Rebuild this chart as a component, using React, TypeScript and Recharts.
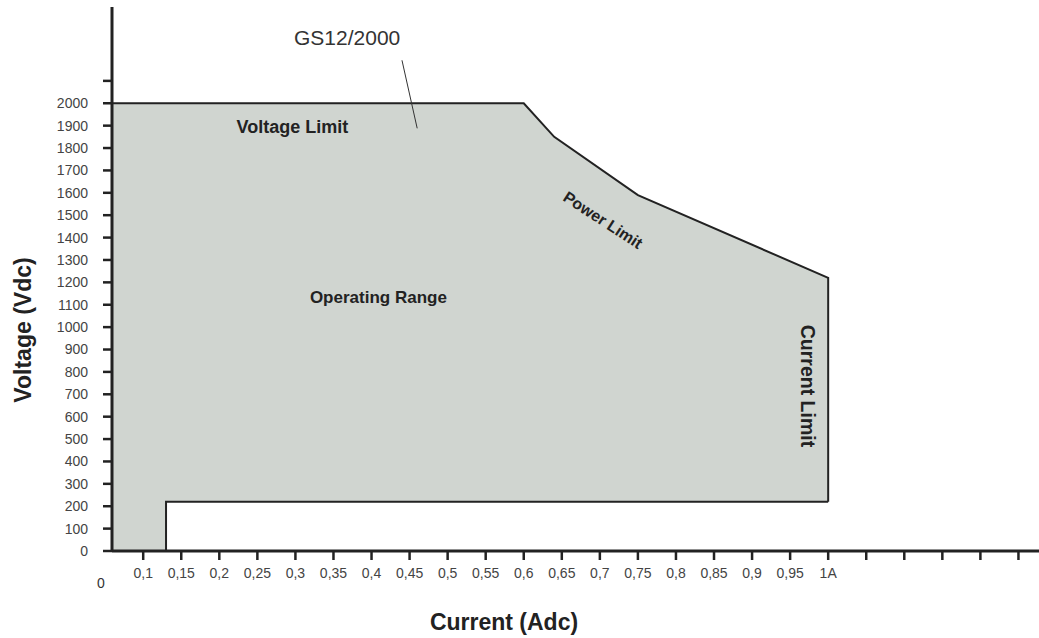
import { Area, ComposedChart, ReferenceDot, ReferenceLine, XAxis, YAxis } from 'recharts';

// operating envelope of the GS12/2000 (current in A, voltage in V)
const currentA = [0.059, 0.13, 0.13, 0.6, 0.64, 0.75, 1.0, 1.0];
const voltageLow = [0, 0, 220, 220, 220, 220, 220, 220];
const voltageHigh = [2000, 2000, 2000, 2000, 1850, 1590, 1220, 220];

const currentTicks = [
  0.1, 0.15, 0.2, 0.25, 0.3, 0.35, 0.4, 0.45, 0.5, 0.55, 0.6, 0.65, 0.7, 0.75, 0.8, 0.85, 0.9, 0.95, 1.0,
  1.05, 1.1, 1.15, 1.2, 1.25,
];
const voltageTicks = [
  0, 100, 200, 300, 400, 500, 600, 700, 800, 900, 1000, 1100, 1200, 1300, 1400, 1500, 1600, 1700, 1800, 1900,
  2000, 2100,
];

const labelNotes = [
  { text: 'GS12/2000', current: 0.368, voltage: 2295, bold: false, size: 21, angle: 0 },
  { text: 'Voltage Limit', current: 0.296, voltage: 1893, bold: true, size: 18, angle: 0 },
  { text: 'Operating Range', current: 0.409, voltage: 1134, bold: true, size: 17, angle: 0 },
  { text: 'Power Limit', current: 0.704, voltage: 1478, bold: true, size: 16, angle: 33 },
  { text: 'Current Limit', current: 0.973, voltage: 737, bold: true, size: 19.5, angle: 90 },
];

const leader = [
  { current: 0.44, voltage: 2192 },
  { current: 0.46, voltage: 1888 },
];

const chartData = currentA.map((c, i) => ({ current: c, range: [voltageLow[i], voltageHigh[i]] }));

const font = '"Liberation Sans", Arial, sans-serif';

const noteContent =
  (text: string, bold: boolean, size: number, angle: number, dx = 0, dy = 0) =>
  (props: any) => {
    const vb = props.viewBox || {};
    const cx = (vb.x ?? vb.cx ?? 0) + (vb.width ?? 0) / 2 + dx;
    const cy = (vb.y ?? vb.cy ?? 0) + (vb.height ?? 0) / 2 + dy;
    return (
      <text
        x={cx}
        y={cy}
        textAnchor="middle"
        dominantBaseline="central"
        fontFamily={font}
        fontSize={size}
        fontWeight={bold ? 'bold' : 'normal'}
        fill={bold ? '#222' : '#333'}
        transform={angle ? `rotate(${angle} ${cx} ${cy})` : undefined}
      >
        {text}
      </text>
    );
  };

const axisTitle = (text: string, x: number, y: number, angle: number) => (props: any) => {
  const vb = props.viewBox;
  const px = vb.x + x;
  const py = vb.y + y;
  return (
    <text
      x={px}
      y={py}
      textAnchor="middle"
      dominantBaseline="central"
      fontFamily={font}
      fontSize={23}
      fontWeight="bold"
      fill="#222"
      transform={angle ? `rotate(${angle} ${px} ${py})` : undefined}
    >
      {text}
    </text>
  );
};

export default function App() {
  return (
    <div style={{ position: 'absolute', left: 0, top: 0, background: '#fff' }}>
      <ComposedChart width={1039} height={638} data={chartData} margin={{ top: 7, right: 0, bottom: 0, left: 0 }}>
        <Area
          type="linear"
          dataKey="range"
          stroke="#222"
          strokeWidth={2}
          fill="#d0d5d0"
          fillOpacity={1}
          isAnimationActive={false}
        />
        <ReferenceLine
          segment={[
            { x: leader[0].current, y: leader[0].voltage },
            { x: leader[1].current, y: leader[1].voltage },
          ]}
          stroke="#333"
          strokeWidth={1}
        />
        {labelNotes.map((n) => (
          <ReferenceDot
            key={n.text}
            x={n.current}
            y={n.voltage}
            r={0}
            stroke="none"
            label={noteContent(n.text, n.bold, n.size, n.angle)}
          />
        ))}
        <ReferenceDot
          x={currentA[0]}
          y={0}
          r={0}
          stroke="none"
          label={noteContent('0', false, 14, 0, -11, 32)}
        />
        <XAxis
          dataKey="current"
          type="number"
          domain={[currentA[0], 1.277]}
          allowDataOverflow
          ticks={currentTicks}
          interval={0}
          height={87}
          axisLine={{ stroke: '#222', strokeWidth: 3 }}
          tickLine={{ stroke: '#222', strokeWidth: 2.5 }}
          tickSize={9}
          tickMargin={8}
          tick={{ fill: '#444', fontSize: 14, fontFamily: font }}
          tickFormatter={(v: number) => (v > 1 ? '' : v === 1 ? '1A' : String(v).replace('.', ','))}
          label={axisTitle('Current (Adc)', 392, 71, 0)}
        />
        <YAxis
          type="number"
          domain={[0, 2430]}
          allowDataOverflow
          ticks={voltageTicks}
          interval={0}
          width={112}
          axisLine={{ stroke: '#222', strokeWidth: 3 }}
          tickLine={{ stroke: '#222', strokeWidth: 2.5 }}
          tickSize={9}
          tickMargin={15}
          tick={{ fill: '#444', fontSize: 14, fontFamily: font }}
          tickFormatter={(v: number) => (v > 2000 ? '' : String(v))}
          label={axisTitle('Voltage (Vdc)', 23, 323, -90)}
        />
      </ComposedChart>
    </div>
  );
}
